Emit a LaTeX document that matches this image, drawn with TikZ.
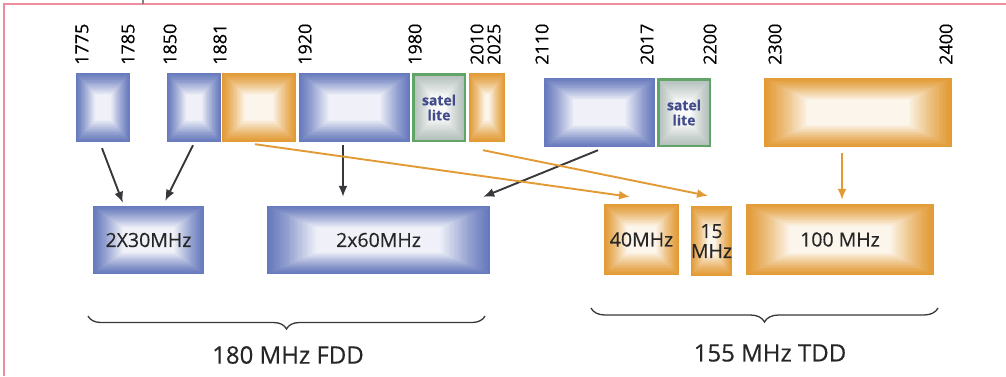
\documentclass[tikz,border=0pt]{standalone}
\usepackage{fontspec}
\setmainfont{Open Sans}[FakeBold=0.35]
\usepackage{tikz}
\usetikzlibrary{positioning, arrows.meta, calc, decorations.pathreplacing}
\definecolor{bandblue}{RGB}{102,121,188}
\definecolor{bandorange}{RGB}{226,154,52}
\definecolor{bandgreen}{RGB}{96,164,104}
\definecolor{satgray}{RGB}{180,192,188}
\definecolor{sattext}{RGB}{66,76,140}
\definecolor{arrowgray}{RGB}{55,55,60}
\definecolor{framepink}{RGB}{240,140,160}

\begin{document}
\begin{tikzpicture}[x=1pt, y=-1pt,
  band/.style={rectangle, inner sep=0pt, fill=#1, path picture={
    \foreach \i in {1,...,30}{
      \pgfmathsetmacro\ff{0.006*\i}
      \pgfmathsetmacro\dd{0.32*\i}
      \pgfmathtruncatemacro\pc{10+90*(1-(\i/30)^1.2)}
      \fill[#1!\pc!white]
        ($(path picture bounding box.north west)!\ff!(path picture bounding box.south east)+(\dd,\dd)$)
        rectangle
        ($(path picture bounding box.south east)!\ff!(path picture bounding box.north west)-(\dd,\dd)$);
    }}},
  satbox/.style={band=satgray, draw=bandgreen, line width=2.5pt, align=center, text=sattext, font=\bfseries\fontsize{14}{15}\selectfont},
  freq/.style={rotate=90, anchor=west, inner sep=0pt, font=\fontsize{18}{18}\selectfont},
  boxtext/.style={align=center, text=black!85, font=\fontsize{19.5}{20}\selectfont},
  darr/.style={draw=arrowgray, line width=1.9pt, -{Latex[length=11pt,width=9pt]}},
  oarr/.style={draw=bandorange, line width=1.9pt, -{Latex[length=11pt,width=9pt]}},
  curly/.style={draw=arrowgray, line width=1.3pt, decorate, decoration={brace, mirror, amplitude=#1}},
  lbl/.style={font=\fontsize{24}{24}\selectfont, text=black!85}
]
\useasboundingbox (0,0) rectangle (1006,376);
\draw[framepink, line width=2pt] (4,376) -- (4,4) -- (1006,4);
\draw[gray, line width=1.2pt] (143,0) -- (143,4);

% frequency marks
\foreach \f/\x in {1775/82, 1785/128, 1850/170, 1881/220, 1920/305, 1980/415, 2010/477, 2025/494,
                   2110/542, 2017/647, 2200/710, 2300/775, 2400/946}
  \node[freq] (l\f) at (\x,65) {\f};

% bands
\node[band=bandblue, minimum width=54pt, minimum height=69pt] (b1775) at (103,107.5) {};
\node[band=bandblue, minimum width=54pt, minimum height=69pt] (b1850) at (194,107.5) {};
\node[band=bandorange, minimum width=74pt, minimum height=69pt] (b1881) at (259,107.5) {};
\node[band=bandblue, minimum width=111pt, minimum height=69pt] (b1920) at (354.5,107.5) {};
\node[satbox, minimum width=51.5pt, minimum height=66.5pt] (s1980) at (439,107.5) {satel\\lite};
\node[band=bandorange, minimum width=36pt, minimum height=69pt] (b2010) at (487,107.5) {};
\node[band=bandblue, minimum width=111pt, minimum height=69pt] (b2110) at (599.5,112.5) {};
\node[satbox, minimum width=51.5pt, minimum height=66.5pt] (s2017) at (684,112.5) {satel\\lite};
\node[band=bandorange, minimum width=188pt, minimum height=69pt] (b2300) at (858,112.5) {};

% blocks
\node[band=bandblue, boxtext, minimum width=111pt, minimum height=68pt] (fdd30) at (148.5,240) {2X30MHz};
\node[band=bandblue, boxtext, minimum width=223pt, minimum height=68pt] (fdd60) at (378.5,240) {2x60MHz};
\node[band=bandorange, boxtext, minimum width=75pt, minimum height=71pt] (tdd40) at (641.5,239.5) {40MHz};
\node[band=bandorange, boxtext, minimum width=37pt, minimum height=70pt] (tdd15) at (711.5,241) {15\\MHz};
\node[band=bandorange, boxtext, minimum width=188pt, minimum height=71pt] (tdd100) at (840,239.5) {100 MHz};

% arrows
\draw[darr] ([shift={(-1,6)}]b1775.south) -- ([shift={(30,-3)}]fdd30.north west);
\draw[darr] ([shift={(-1,3)}]b1850.south) -- ([shift={(-39,-5)}]fdd30.north east);
\draw[darr] ([shift={(-11.5,3)}]b1920.south) -- ([shift={(-35.5,-9)}]fdd60.north);
\draw[darr] ([shift={(-1.5,3)}]b2110.south) -- ([shift={(-7,-9)}]fdd60.north east);
\draw[oarr] ([shift={(-4,2)}]b1881.south) -- ([shift={(-11.5,-7)}]tdd40.north);
\draw[oarr] ([shift={(-4,8)}]b2010.south) -- ([shift={(-3.5,-10)}]tdd15.north);
\draw[oarr] ([shift={(-16,6)}]b2300.south) -- ([shift={(2,-4)}]tdd100.north);

% braces
\coordinate (fddl) at (88,316);
\coordinate (fddr) at (485,316);
\coordinate (tddl) at (591,308);
\coordinate (tddr) at (938,308);
\draw[curly=13pt] (fddl) -- (fddr);
\draw[curly=14pt] (tddl) -- (tddr);
\node[lbl] (fdd) at (288,355) {180 MHz FDD};
\node[lbl] (tdd) at (770,353) {155 MHz TDD};
\end{tikzpicture}
\end{document}
